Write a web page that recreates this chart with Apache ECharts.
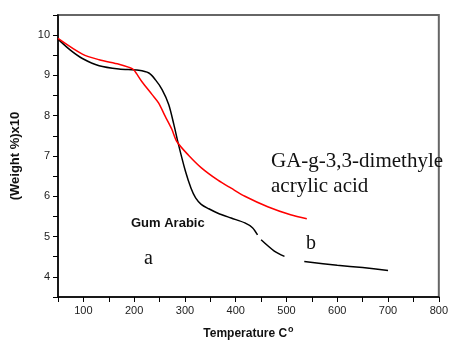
<!DOCTYPE html>
<html>
<head>
<meta charset="utf-8">
<script src="https://cdn.jsdelivr.net/npm/echarts@6/dist/echarts.min.js"></script>
<style>
  html, body { margin: 0; padding: 0; background: #fff; }
  #main { width: 451px; height: 345px; }
</style>
</head>
<body>
<div id="main"></div>
<script>
// Gum Arabic (black) - nulls mark the breaks in the trace
const tempGum = [50, 75, 98, 131, 170, 209, 229, 242, 255, 268, 278, 287, 301, 312, 321, 332, 347, 365, 391, 418, 433, 443, null,
  450, 476, 496, null, 535, 600, 650, 700];
const weightGum = [9.9, 9.62, 9.42, 9.24, 9.16, 9.13, 9.06, 8.89, 8.65, 8.28, 7.79, 7.3, 6.62, 6.2, 5.96, 5.8, 5.69, 5.58, 5.46, 5.34, 5.22, 5.04, null,
  4.92, 4.64, 4.51, null, 4.38, 4.29, 4.23, 4.16];

// GA-g-3,3-dimethyle acrylic acid (red)
const tempGraft = [50, 98, 131, 170, 190, 199, 215, 235, 248, 261, 274, 284, 307, 333, 365, 391, 418, 463, 508, 540];
const weightGraft = [9.92, 9.53, 9.39, 9.28, 9.2, 9.14, 8.85, 8.53, 8.32, 7.99, 7.67, 7.36, 7.02, 6.7, 6.4, 6.2, 6.0, 5.74, 5.54, 5.44];

const xLabels = [100, 200, 300, 400, 500, 600, 700, 800];
const yLabels = [4, 5, 6, 7, 8, 9, 10];

const pairs = (xs, ys) => xs.map((x, i) => (x === null ? [null, null] : [x, ys[i]]));

const chart = echarts.init(document.getElementById("main"));

const labelFont = { color: "#222", fontSize: 11, fontFamily: "Liberation Sans, Arial" };

const option = {
  animation: false,
  grid: {
    left: 58, right: 9, top: 15, bottom: 46,
    show: true,
    borderColor: "#666",
    borderWidth: 2
  },
  xAxis: {
    type: "value",
    min: 50, max: 800, interval: 50,
    name: "Temperature C{sup|o}",
    nameLocation: "middle",
    nameGap: 28,
    nameTextStyle: {
      fontSize: 12, fontWeight: "bold", color: "#111", fontFamily: "Liberation Sans, Arial",
      rich: {
        sup: { fontSize: 9, fontWeight: "bold", verticalAlign: "top", padding: [0, 0, 9, 1], color: "#111" }
      }
    },
    axisLine: { show: true, lineStyle: { color: "#000", width: 1.5 } },
    axisTick: { show: true, length: 5, lineStyle: { color: "#000" } },
    splitLine: { show: false },
    axisLabel: {
      ...labelFont,
      margin: 8,
      formatter: (v) => (xLabels.includes(v) ? String(v) : "")
    }
  },
  yAxis: {
    type: "value",
    min: 3.5, max: 10.5, interval: 0.5,
    name: "(Weight %)x10",
    nameLocation: "middle",
    nameGap: 36,
    nameTextStyle: { fontSize: 13, fontWeight: "bold", color: "#111", fontFamily: "Liberation Sans, Arial" },
    axisLine: { show: true, lineStyle: { color: "#000", width: 1.5 } },
    axisTick: { show: true, length: 5, lineStyle: { color: "#000" } },
    splitLine: { show: false },
    axisLabel: {
      ...labelFont,
      margin: 8,
      formatter: (v) => (yLabels.includes(v) ? String(v) : "")
    }
  },
  series: [
    {
      type: "line",
      data: pairs(tempGum, weightGum),
      smooth: 0.3,
      showSymbol: false,
      connectNulls: false,
      lineStyle: { color: "#000", width: 1.5 }
    },
    {
      type: "line",
      data: pairs(tempGraft, weightGraft),
      smooth: 0.3,
      showSymbol: false,
      lineStyle: { color: "#f00", width: 1.5 }
    }
  ],
  graphic: [
    { type: "text", left: 131, top: 217, style: { text: "Gum Arabic", font: "bold 13px Liberation Sans, Arial", fill: "#111" } },
    { type: "text", left: 144, top: 249, style: { text: "a", font: "20px Liberation Serif, Times New Roman", fill: "#111" } },
    { type: "text", left: 306, top: 234, style: { text: "b", font: "20px Liberation Serif, Times New Roman", fill: "#111" } },
    { type: "text", left: 271, top: 151, style: { text: "GA-g-3,3-dimethyle", font: "21px Liberation Serif, Times New Roman", fill: "#111" } },
    { type: "text", left: 271, top: 176, style: { text: "acrylic acid", font: "21px Liberation Serif, Times New Roman", fill: "#111" } }
  ]
};

chart.setOption(option);
</script>
</body>
</html>
